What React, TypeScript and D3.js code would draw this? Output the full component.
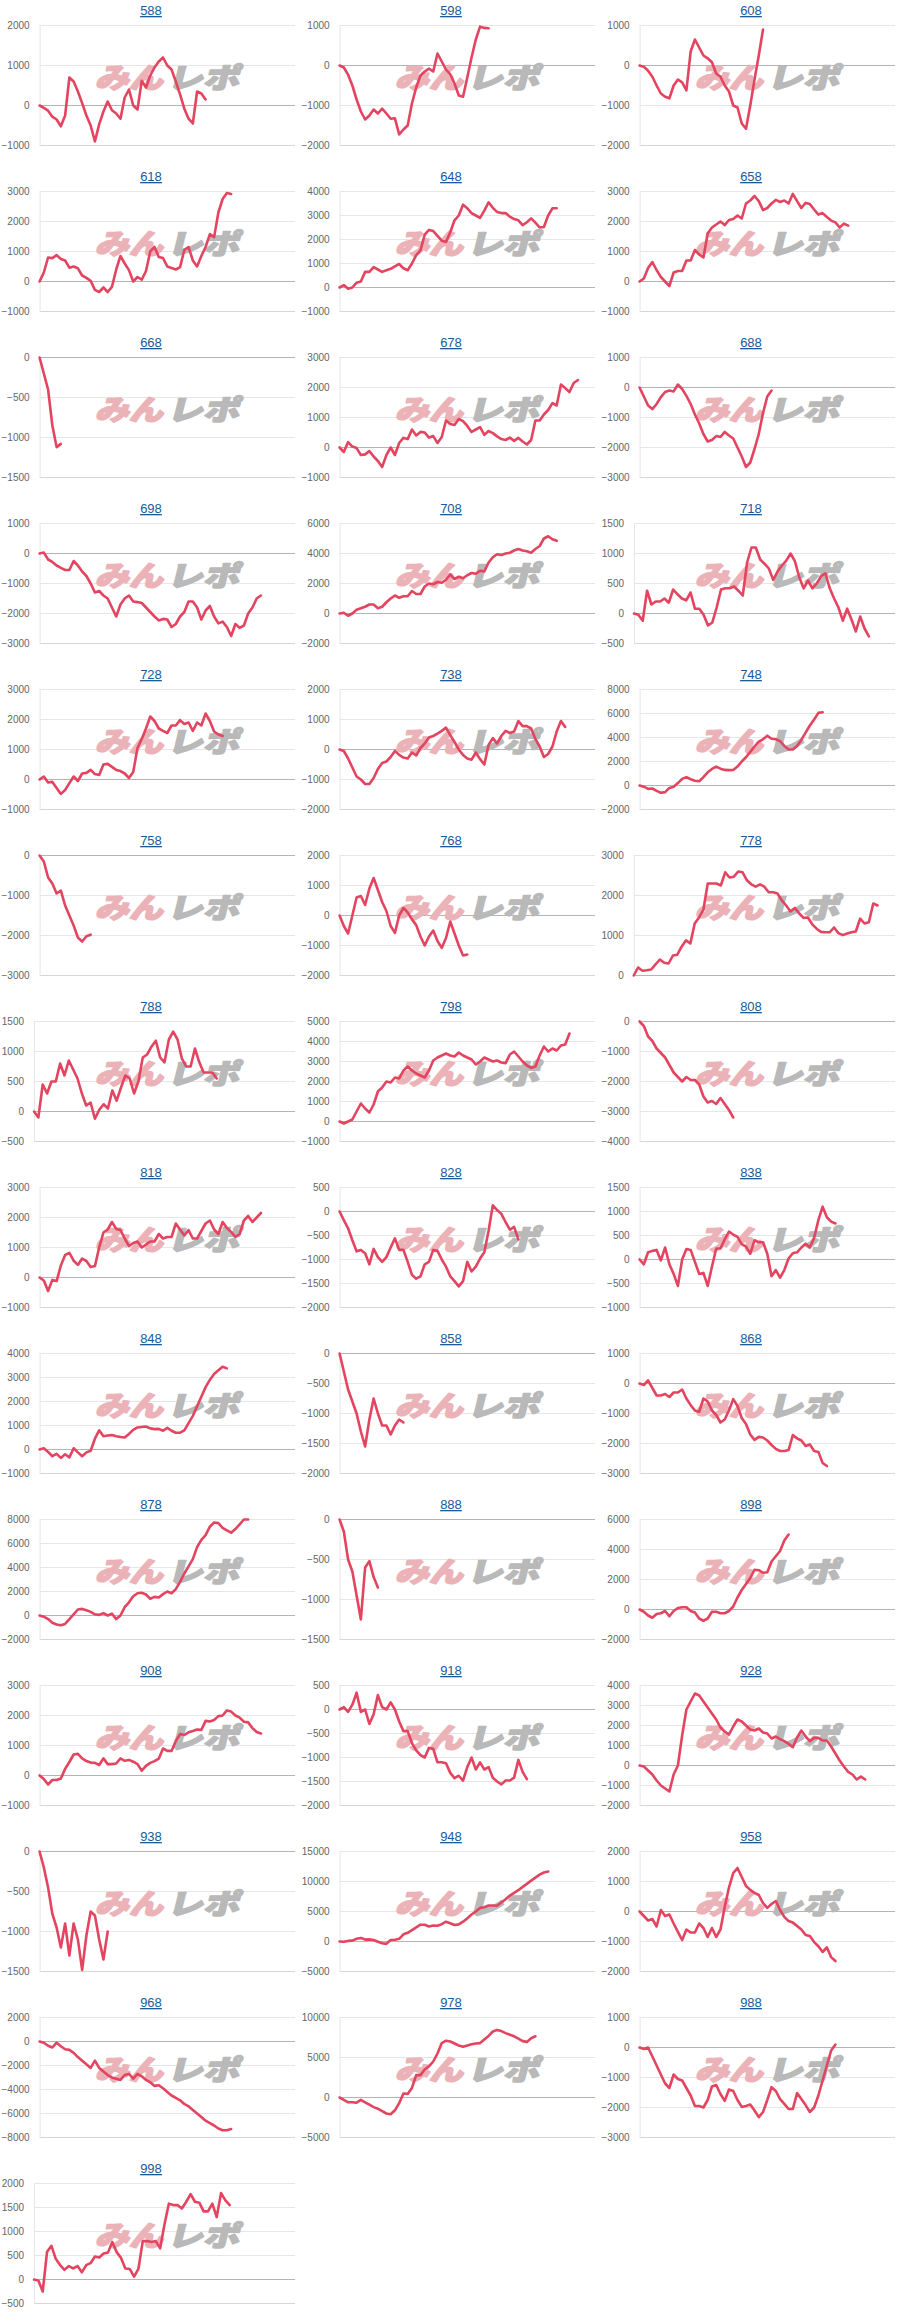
import React, { useEffect } from "react";
import * as d3 from "d3";

// ---- categories (machine numbers) ----
const panelIds = [
  "588", "598", "608", "618", "648", "658", "668", "678", "688", "698",
  "708", "718", "728", "738", "748", "758", "768", "778", "788", "798",
  "808", "818", "828", "838", "848", "858", "868", "878", "888", "898",
  "908", "918", "928", "938", "948", "958", "968", "978", "988", "998",
];

// ---- y axis ranges / tick steps per panel ----
const yMin = [-1000, -2000, -2000, -1000, -1000, -1000, -1500, -1000, -3000, -3000, -2000, -500, -1000, -2000, -2000, -3000, -2000, 0, -500, -1000, -4000, -1000, -2000, -1000, -1000, -2000, -3000, -2000, -1500, -2000, -1000, -2000, -2000, -1500, -5000, -2000, -8000, -5000, -3000, -500];
const yMax = [2000, 1000, 1000, 3000, 4000, 3000, 0, 3000, 1000, 1000, 6000, 1500, 3000, 2000, 8000, 0, 2000, 3000, 1500, 5000, 0, 3000, 500, 1500, 4000, 0, 1000, 8000, 0, 6000, 3000, 500, 4000, 0, 15000, 2000, 2000, 10000, 1000, 2000];
const yStep = [1000, 1000, 1000, 1000, 1000, 1000, 500, 1000, 1000, 1000, 2000, 500, 1000, 1000, 2000, 1000, 1000, 1000, 500, 1000, 1000, 1000, 500, 500, 1000, 500, 1000, 2000, 500, 2000, 1000, 500, 1000, 500, 5000, 1000, 2000, 5000, 1000, 500];

// ---- series values (one point per step on a shared x axis) ----
const v588 = [0, -60, -130, -280, -350, -520, -250, 700, 600, 350, 60, -250, -500, -900, -470, -150, 100, -120, -200, -330, 200, 400, 0, -100, 620, 450, 750, 950, 1100, 1200, 1000, 900, 600, 280, -80, -330, -450, 350, 300, 150];
const v598 = [0, -50, -230, -500, -850, -1150, -1350, -1250, -1100, -1200, -1080, -1200, -1330, -1320, -1720, -1600, -1500, -950, -550, -250, -150, -80, -150, 300, 100, -100, -220, -450, -750, -780, -300, 200, 650, 970, 940, 930];
const v608 = [0, -30, -130, -280, -500, -700, -780, -820, -500, -350, -420, -620, 350, 650, 450, 250, 180, 80, -200, -280, -500, -650, -1000, -1050, -1450, -1580, -1000, -350, 250, 900];
const v618 = [0, 300, 800, 780, 880, 750, 700, 460, 500, 440, 200, 120, 20, -280, -350, -200, -350, -180, 400, 850, 600, 380, 0, 150, 60, 350, 1000, 1150, 820, 780, 500, 450, 400, 480, 1050, 1150, 700, 500, 850, 1150, 1580, 1480, 2300, 2750, 2950, 2920];
const v648 = [0, 100, -50, 0, 200, 250, 650, 650, 850, 750, 650, 720, 780, 880, 980, 800, 720, 1000, 1350, 1550, 2200, 2400, 2350, 2150, 1950, 1900, 2300, 2800, 3000, 3450, 3300, 3100, 3000, 2900, 3200, 3550, 3320, 3150, 3100, 3100, 2950, 2850, 2800, 2600, 2720, 2880, 2700, 2500, 2520, 3000, 3300, 3300];
const v658 = [0, 100, 450, 650, 380, 150, 0, -150, 300, 350, 350, 700, 700, 1050, 900, 800, 1600, 1800, 1900, 2000, 1880, 2050, 2080, 2200, 2100, 2600, 2700, 2850, 2680, 2380, 2450, 2600, 2720, 2650, 2700, 2600, 2920, 2680, 2450, 2620, 2580, 2400, 2230, 2280, 2150, 2030, 1970, 1800, 1930, 1860];
const v668 = [0, -200, -400, -850, -1120, -1080];
const v678 = [0, -150, 180, 30, -20, -250, -230, -120, -300, -450, -650, -250, 0, -250, 150, 320, 280, 600, 400, 520, 500, 330, 380, 150, 350, 900, 780, 750, 950, 880, 720, 520, 600, 680, 420, 550, 480, 370, 280, 250, 330, 220, 320, 200, 100, 250, 900, 900, 1100, 1250, 1480, 1400, 2100, 1980, 1850, 2150, 2250];
const v688 = [0, -300, -600, -720, -550, -320, -150, -100, -130, 100, -50, -280, -550, -900, -1200, -1550, -1800, -1750, -1620, -1650, -1480, -1600, -1700, -2000, -2300, -2650, -2500, -2050, -1550, -850, -300, -100];
const v698 = [0, 30, -200, -280, -400, -480, -550, -550, -250, -400, -600, -750, -1000, -1300, -1250, -1400, -1500, -1800, -2100, -1700, -1500, -1400, -1600, -1620, -1650, -1800, -1950, -2100, -2230, -2180, -2200, -2450, -2350, -2100, -1950, -1600, -1600, -1800, -2200, -1900, -1750, -2100, -2330, -2270, -2450, -2750, -2350, -2480, -2400, -2000, -1800, -1500, -1400];
const v708 = [0, 50, -150, 0, 250, 350, 450, 600, 600, 350, 450, 750, 1000, 1200, 1050, 1150, 1150, 1500, 1300, 1300, 1800, 2000, 1950, 2100, 2050, 2250, 2600, 2300, 2450, 2350, 2550, 2700, 2650, 2850, 2800, 3400, 3750, 3950, 3900, 4000, 4050, 4200, 4300, 4200, 4150, 4050, 4300, 4500, 5000, 5150, 4950, 4850];
const v718 = [0, -20, -120, 380, 150, 200, 200, 250, 180, 400, 320, 250, 220, 350, 80, 80, -20, -200, -150, 100, 400, 420, 420, 450, 380, 300, 850, 1100, 1100, 900, 830, 750, 560, 700, 800, 880, 1000, 870, 600, 420, 550, 420, 500, 620, 670, 420, 250, 100, -120, 80, -100, -300, -50, -250, -380];
const v728 = [0, 100, -100, -80, -280, -480, -350, -120, 100, -50, 200, 220, 320, 180, 150, 500, 520, 420, 320, 280, 200, 50, 250, 1050, 1350, 1700, 2100, 1950, 1700, 1620, 1550, 1800, 1800, 1980, 1850, 1900, 1620, 1900, 1800, 2200, 1950, 1600, 1500, 1450];
const v738 = [0, -50, -300, -600, -900, -1000, -1150, -1150, -950, -650, -450, -400, -250, -50, -180, -270, -300, -100, -200, 50, 200, 400, 450, 530, 620, 730, 480, 250, 0, -180, -300, -340, -100, -320, -500, 150, 380, 200, 450, 620, 550, 600, 950, 780, 780, 700, 350, 100, -250, -150, 100, 600, 950, 750];
const v748 = [0, -100, -280, -250, -450, -600, -550, -200, -100, 200, 550, 700, 520, 400, 350, 700, 1100, 1380, 1580, 1400, 1300, 1280, 1300, 1580, 2000, 2350, 2800, 3250, 3650, 3850, 4150, 3900, 3850, 3700, 3300, 3000, 3000, 3300, 3800, 4400, 5000, 5500, 6050, 6100];
const v758 = [0, -150, -550, -700, -950, -880, -1250, -1500, -1750, -2050, -2150, -2020, -1980];
const v768 = [0, -350, -600, 0, 600, 650, 350, 900, 1250, 850, 450, 150, -350, -580, 0, 250, 100, -130, -320, -700, -1000, -700, -500, -850, -1080, -750, -200, -600, -1000, -1330, -1300];
const v778 = [0, 200, 120, 130, 150, 280, 400, 320, 300, 500, 520, 720, 880, 800, 1300, 1450, 1650, 2300, 2300, 2300, 2250, 2580, 2450, 2470, 2600, 2580, 2380, 2280, 2220, 2280, 2220, 2080, 2080, 2050, 1880, 1750, 1600, 1690, 1550, 1440, 1450, 1280, 1170, 1090, 1080, 1080, 1200, 1060, 1010, 1050, 1080, 1100, 1420, 1300, 1330, 1800, 1750];
const v788 = [0, -100, 450, 300, 500, 500, 800, 600, 850, 700, 550, 300, 100, 150, -120, 30, 120, 50, 350, 180, 400, 600, 550, 300, 500, 900, 950, 1080, 1180, 900, 820, 1200, 1330, 1200, 880, 750, 750, 1050, 820, 650, 650, 650, 550];
const v798 = [0, -100, 0, 100, 500, 900, 650, 450, 850, 1500, 1700, 2000, 1950, 2200, 2150, 2550, 2750, 2550, 2400, 2300, 2200, 2550, 3050, 3200, 3300, 3400, 3300, 3250, 3450, 3300, 3200, 3100, 2850, 3000, 3200, 3100, 3000, 3050, 2950, 2920, 3350, 3500, 3250, 3000, 2800, 2680, 2750, 3300, 3750, 3500, 3650, 3550, 3800, 3850, 4400];
const v808 = [0, -150, -500, -650, -900, -1050, -1200, -1450, -1700, -1850, -2000, -1850, -1950, -1950, -2100, -2500, -2700, -2650, -2750, -2550, -2750, -2950, -3200];
const v818 = [0, -100, -450, -80, -120, 400, 750, 820, 560, 420, 630, 550, 350, 380, 1000, 1500, 1600, 1850, 1620, 1580, 1300, 1050, 1150, 1200, 1000, 1100, 1200, 1200, 1450, 1300, 1350, 1350, 1800, 1600, 1400, 1580, 1300, 1300, 1550, 1800, 1900, 1600, 1450, 1850, 1650, 1520, 1350, 1450, 1900, 2050, 1850, 2000, 2150];
const v828 = [0, -180, -350, -600, -830, -800, -870, -1100, -780, -950, -1050, -950, -750, -560, -800, -800, -1050, -1320, -1400, -1350, -1100, -1050, -800, -820, -1000, -1150, -1350, -1450, -1560, -1450, -1050, -1250, -1150, -980, -850, -400, 130, 30, -50, -220, -380, -320, -580];
const v838 = [0, -100, 150, 180, 200, -20, 250, -100, -300, -550, 0, 220, 200, -50, -300, -280, -550, -150, 230, 230, 420, 580, 520, 470, 320, 270, 120, 400, 360, 360, 120, -350, -220, -380, -220, 20, 130, 150, 250, 330, 250, 450, 820, 1100, 880, 790, 750];
const v848 = [0, 50, -100, -280, -180, -350, -200, -330, 50, -120, -280, -120, -50, 450, 800, 550, 580, 600, 550, 520, 500, 650, 820, 920, 940, 960, 880, 850, 860, 780, 900, 780, 700, 700, 800, 1100, 1400, 1800, 2200, 2600, 2900, 3150, 3300, 3450, 3380];
const v858 = [0, -300, -600, -800, -1000, -1300, -1550, -1100, -750, -1000, -1200, -1200, -1350, -1200, -1100, -1150];
const v868 = [0, -50, 100, -150, -400, -400, -350, -450, -300, -300, -200, -500, -720, -900, -950, -500, -600, -900, -1050, -1300, -1200, -900, -520, -750, -1150, -1350, -1700, -1880, -1780, -1800, -1900, -2050, -2180, -2250, -2250, -2220, -1720, -1830, -1900, -2080, -2030, -2250, -2280, -2650, -2750];
const v878 = [0, -100, -300, -600, -750, -820, -700, -300, 100, 500, 550, 430, 300, 100, 50, 200, 0, 150, -300, 0, 700, 1100, 1600, 1850, 1900, 1750, 1400, 1550, 1500, 1780, 2000, 1850, 2200, 2800, 3500, 4100, 4700, 5700, 6300, 6700, 7400, 7750, 7700, 7300, 7100, 6900, 7200, 7600, 8000, 8000];
const v888 = [0, -150, -500, -650, -950, -1250, -600, -520, -720, -850];
const v898 = [0, -150, -400, -550, -300, -250, -100, -450, -100, 100, 150, 150, -100, -200, -600, -750, -600, -150, -150, -250, -250, -100, 200, 800, 1300, 1700, 2100, 2650, 2620, 2450, 2480, 3200, 3550, 3900, 4600, 5000];
const v908 = [0, -120, -300, -150, -150, -100, 220, 450, 700, 720, 570, 480, 430, 420, 350, 570, 380, 380, 400, 570, 490, 520, 460, 380, 160, 320, 420, 480, 560, 900, 820, 820, 1150, 1380, 1350, 1440, 1480, 1530, 1520, 1820, 1800, 1850, 1980, 2000, 2170, 2130, 2000, 1930, 1790, 1770, 1580, 1450, 1400];
const v918 = [0, 50, -50, 100, 350, -50, 0, -300, -100, 300, 50, 0, 150, 0, -250, -450, -450, -700, -850, -950, -1000, -800, -820, -1100, -1100, -1120, -1320, -1430, -1380, -1480, -1200, -1000, -1250, -1100, -1250, -1200, -1420, -1500, -1560, -1480, -1480, -1420, -1050, -1300, -1450];
const v928 = [0, -50, -250, -450, -750, -1000, -1150, -1300, -450, 0, 1500, 2800, 3200, 3600, 3500, 3200, 2900, 2600, 2300, 1900, 1700, 1550, 1950, 2300, 2200, 2000, 1800, 1750, 1850, 1650, 1600, 1350, 1450, 1320, 1220, 1080, 920, 1400, 1750, 1450, 1220, 1380, 1380, 1250, 1250, 950, 600, 250, -50, -320, -450, -700, -550, -700];
const v938 = [0, -200, -450, -780, -950, -1200, -900, -1300, -900, -1100, -1480, -1050, -750, -800, -1100, -1350, -1000];
const v948 = [0, -50, 100, 150, 450, 600, 320, 350, 250, -50, -280, -400, 250, 300, 450, 1200, 1450, 1900, 2350, 2800, 2800, 2500, 2650, 2620, 2900, 3300, 3050, 2750, 2850, 3300, 3850, 4500, 5000, 5600, 5700, 6000, 6000, 5950, 6500, 7050, 7650, 8100, 8550, 9100, 9600, 10150, 10650, 11150, 11500, 11650];
const v958 = [0, -150, -300, -250, -500, 50, -150, -100, -400, -680, -950, -600, -700, -700, -400, -550, -850, -550, -850, -600, 150, 800, 1280, 1450, 1150, 850, 720, 620, 550, 280, 120, 250, 350, 50, -180, -320, -370, -480, -600, -780, -820, -1020, -1160, -1350, -1200, -1520, -1650];
const v968 = [0, -100, -350, -500, -100, -400, -650, -700, -950, -1300, -1600, -1900, -2200, -1600, -2200, -2500, -2800, -3000, -3100, -3200, -2800, -2700, -3100, -2700, -2900, -3200, -3400, -3700, -3650, -3900, -4200, -4500, -4700, -4900, -5200, -5400, -5700, -6000, -6300, -6600, -6800, -7000, -7250, -7400, -7400, -7300];
const v978 = [0, -300, -600, -600, -650, -300, -600, -900, -1200, -1400, -1700, -2000, -2100, -1600, -700, 500, 450, 1200, 2800, 2800, 3500, 3900, 4500, 5500, 6800, 7100, 7000, 6750, 6500, 6350, 6500, 6650, 6750, 6800, 7250, 7700, 8250, 8450, 8300, 8050, 7850, 7650, 7350, 7050, 6950, 7400, 7650];
const v988 = [0, -50, 0, -300, -600, -900, -1200, -1350, -900, -1050, -1100, -1350, -1600, -1950, -1950, -2000, -1750, -1300, -1250, -1550, -1780, -1400, -1450, -1750, -1980, -1950, -1900, -2100, -2320, -2150, -1750, -1320, -1450, -1720, -1880, -2050, -2050, -1520, -1720, -1920, -2150, -2000, -1600, -1100, -600, -100, 100];
const v998 = [0, -20, -250, 580, 700, 430, 300, 200, 280, 230, 280, 150, 300, 340, 480, 460, 540, 560, 780, 570, 450, 230, 220, 60, 220, 800, 800, 780, 800, 650, 1150, 1580, 1550, 1550, 1480, 1620, 1780, 1620, 1600, 1420, 1420, 1580, 1300, 1800, 1650, 1550];

const seriesValues = [
  v588, v598, v608, v618, v648, v658, v668, v678, v688, v698,
  v708, v718, v728, v738, v748, v758, v768, v778, v788, v798,
  v808, v818, v828, v838, v848, v858, v868, v878, v888, v898,
  v908, v918, v928, v938, v948, v958, v968, v978, v988, v998,
];

// shared x axis length (number of steps across the plot)
const X_MAX = 60;

const COL_W = 300;
const ROW_H = 166;
const FONT = "'Liberation Sans', Arial, Helvetica, sans-serif";
const LINE_COLOR = "#e3445f";

function fmt(v: number): string {
  return v < 0 ? "\u2212" + String(Math.abs(v)) : String(v);
}
function labelWidth(s: string): number {
  let w = 0;
  for (const ch of s) w += ch === "\u2212" ? 5.84 : 5.56;
  return w;
}

function Panel({ idx }: { idx: number }) {
  const col = idx % 3;
  const row = Math.floor(idx / 3);
  const px = col * COL_W;
  const py = row * ROW_H;
  const lo = yMin[idx];
  const hi = yMax[idx];
  const step = yStep[idx];
  const ticks = d3.range(lo, hi + step / 2, step);
  const labels = ticks.map(fmt);
  const maxW = d3.max(labels, labelWidth) || 0;
  const left = px + 1.5 + maxW + 10;
  const right = px + 295;
  const top = py + 25.5;
  const bottom = py + 145.5;
  const x = d3.scaleLinear().domain([0, X_MAX]).range([left, right]);
  const y = d3.scaleLinear().domain([lo, hi]).range([bottom, top]);
  const line = d3
    .line<number>()
    .x((_, i) => x(i))
    .y((d) => y(d));
  const vals = seriesValues[idx];

  return (
    <g>
      <text
        x={px + 151}
        y={py + 15}
        textAnchor="middle"
        fontFamily={FONT}
        fontSize={13}
        fill="#1a5a99"
        textDecoration="underline"
      >
        {panelIds[idx]}
      </text>
      {ticks.map((t, k) => {
        const isZero = t === 0;
        const isBottom = k === 0;
        const stroke = isZero ? "#b4b4b4" : isBottom ? "#d6d6d6" : "#e6e6e6";
        return (
          <line
            key={"g" + k}
            x1={left}
            x2={right}
            y1={y(t)}
            y2={y(t)}
            stroke={stroke}
            strokeWidth={1}
          />
        );
      })}
      <line x1={left + 0.5} x2={left + 0.5} y1={top} y2={bottom} stroke="#e6e6e6" strokeWidth={1} />
      {ticks.map((t, k) => (
        <text
          key={"l" + k}
          x={left - 10}
          y={y(t)}
          dy="0.35em"
          textAnchor="end"
          fontFamily={FONT}
          fontSize={10}
          fill="#666666"
        >
          {labels[k]}
        </text>
      ))}
      <g transform={`translate(${px + 95},${py + 88}) skewX(-14)`}>
        <text
          x={0}
          y={0}
          fontFamily="'Noto Sans CJK JP', sans-serif"
          fontWeight={900}
          fontSize={28}
          fill="#ebb3b8"
          stroke="#ebb3b8"
          strokeWidth={1.6}
          strokeLinejoin="round"
          textLength={68}
          lengthAdjust="spacingAndGlyphs"
        >
          みん
        </text>
        <text
          x={72}
          y={0}
          fontFamily="'Noto Sans CJK JP', sans-serif"
          fontWeight={900}
          fontSize={28}
          fill="#b9b9b9"
          stroke="#b9b9b9"
          strokeWidth={1.6}
          strokeLinejoin="round"
          textLength={72}
          lengthAdjust="spacingAndGlyphs"
        >
          レポ
        </text>
      </g>
      <path
        d={line(vals) || ""}
        fill="none"
        stroke={LINE_COLOR}
        strokeWidth={2.6}
        strokeLinejoin="round"
        strokeLinecap="round"
      />
    </g>
  );
}

export default function App() {
  useEffect(() => {
    document.body.style.margin = "0";
  }, []);
  return (
    <svg
      width={900}
      height={2324}
      viewBox="0 0 900 2324"
      style={{ display: "block", position: "absolute", left: 0, top: 0, background: "#ffffff" }}
    >
      <rect x={0} y={0} width={900} height={2324} fill="#ffffff" />
      {panelIds.map((_, i) => (
        <Panel key={panelIds[i]} idx={i} />
      ))}
    </svg>
  );
}
